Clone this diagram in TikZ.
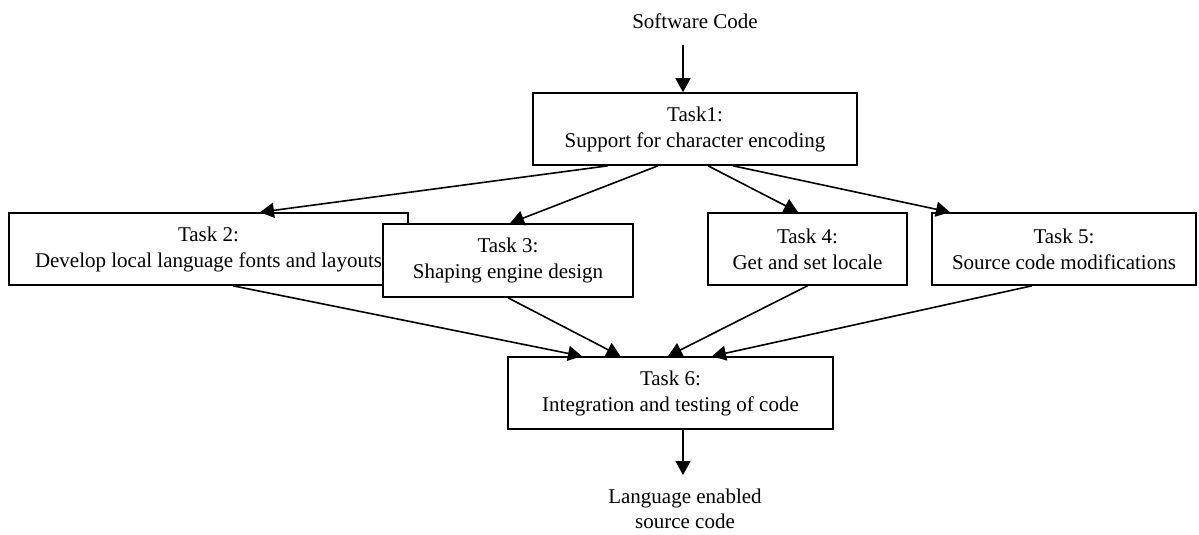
\documentclass[tikz,border=0pt]{standalone}
\usepackage{fontspec}
\setmainfont{Liberation Serif}
\usetikzlibrary{arrows.meta}
\begin{document}
\begin{tikzpicture}[x=1pt,y=-1pt,
  every node/.style={font=\fontsize{21}{26}\selectfont},
  taskbox/.style={draw, line width=1.6pt, fill=white, align=center, inner sep=0pt},
  flow/.style={line width=1.6pt, -{Triangle[length=14pt,width=15pt]}}]
\useasboundingbox (0,0) rectangle (1199,535);

% input and output labels
\node (src) at (695,21) {Software Code};
\coordinate (srcout) at (683,45);
\node[anchor=north, align=center, inner sep=0pt, font=\fontsize{21}{25}\selectfont] (res) at (685,489) {Language enabled\\source code};
\coordinate (resin) at (683,475);

% task boxes (Task 3 is drawn over Task 2)
\node[taskbox, minimum width=324pt, minimum height=72pt] (t1) at (695,129) {Task1:\\Support for character encoding};
\node[taskbox, minimum width=399pt, minimum height=72pt] (t2) at (208.5,249) {Task 2:\\Develop local language fonts and layouts};
\node[taskbox, minimum width=250pt, minimum height=73pt] (t3) at (508,260.5) {Task 3:\\Shaping engine design};
\node[taskbox, minimum width=199pt, minimum height=72pt] (t4) at (807.5,249) {Task 4:\\Get and set locale};
\node[taskbox, minimum width=264pt, minimum height=72pt] (t5) at (1064,249) {Task 5:\\Source code modifications};
\node[taskbox, minimum width=325pt, minimum height=72pt] (t6) at (670.5,393) {Task 6:\\Integration and testing of code};

% connectors
\draw[flow] (srcout) -- ([xshift=-12pt]t1.north);
\draw[flow] ([xshift=-87pt]t1.south) -- ([xshift=51.5pt]t2.north);
\draw[flow] ([xshift=-37pt]t1.south) -- ([xshift=2pt]t3.north);
\draw[flow] ([xshift=13pt]t1.south) -- ([xshift=-9.5pt]t4.north);
\draw[flow] ([xshift=38pt]t1.south) -- ([xshift=-114pt]t5.north);
\draw[flow] ([xshift=24.5pt]t2.south) -- ([xshift=-88.5pt]t6.north);
\draw[flow] (t3.south) -- ([xshift=-50pt]t6.north);
\draw[flow] (t4.south) -- ([xshift=-2.5pt]t6.north);
\draw[flow] ([xshift=-32pt]t5.south) -- ([xshift=41.5pt]t6.north);
\draw[flow] ([xshift=12.5pt]t6.south) -- (resin);
\end{tikzpicture}
\end{document}
